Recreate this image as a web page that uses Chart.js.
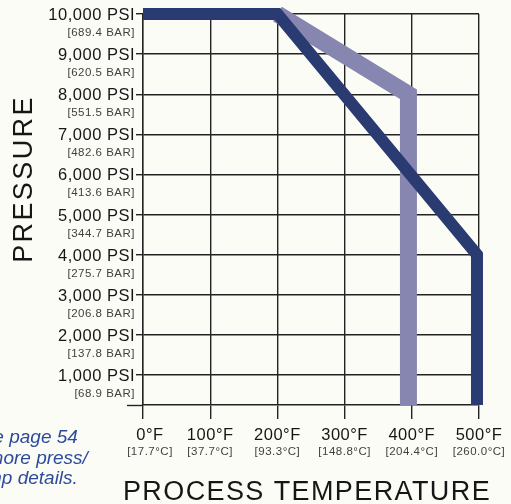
<!DOCTYPE html>
<html>
<head>
<meta charset="utf-8">
<script src="https://cdn.jsdelivr.net/npm/chart.js@4/dist/chart.umd.min.js"></script>
<style>
  html, body { margin: 0; padding: 0; background: #fcfcf7; }
  canvas { display: block; }
</style>
</head>
<body>
<canvas id="chart" width="511" height="504"></canvas>
<script>
// axis ticks
const tempTicks = [0, 100, 200, 300, 400, 500];
const tempLabels = ['0°F', '100°F', '200°F', '300°F', '400°F', '500°F'];
const tempSubLabels = ['[17.7°C]', '[37.7°C]', '[93.3°C]', '[148.8°C]', '[204.4°C]', '[260.0°C]'];
const psiTicks = [1000, 2000, 3000, 4000, 5000, 6000, 7000, 8000, 9000, 10000];
const psiLabels = ['1,000 PSI', '2,000 PSI', '3,000 PSI', '4,000 PSI', '5,000 PSI',
    '6,000 PSI', '7,000 PSI', '8,000 PSI', '9,000 PSI', '10,000 PSI'];
const barLabels = ['[68.9 BAR]', '[137.8 BAR]', '[206.8 BAR]', '[275.7 BAR]', '[344.7 BAR]',
    '[413.6 BAR]', '[482.6 BAR]', '[551.5 BAR]', '[620.5 BAR]', '[689.4 BAR]'];
const psiAxisMin = 250;
const psiAxisMax = 10000;

// rating curves (temperature °F, pressure PSI)
const darkTemps = [0, 200, 497, 497];
const darkPsi = [10000, 10000, 4000, 0];
const lightTemps = [200, 395, 395];
const lightPsi = [10000, 8000, 0];

const noteLines = ['See page 54', 'for more press/', 'temp details.'];

const GRID = '#232323';
const TEXT = '#161616';
const SUBTEXT = '#404040';

function toPoints(xs, ys) {
    return xs.map((x, i) => ({ x, y: ys[i] }));
}

const labelsPlugin = {
    id: 'labels',
    afterDraw(chart) {
        const ctx = chart.ctx;
        const area = chart.chartArea;
        const xs = chart.scales.x;
        const ys = chart.scales.y;
        ctx.save();

        // x axis runs a little past the y axis
        ctx.strokeStyle = GRID;
        ctx.lineWidth = 1.4;
        ctx.beginPath();
        ctx.moveTo(area.left - 16, Math.round(area.bottom) + 0.5);
        ctx.lineTo(area.left, Math.round(area.bottom) + 0.5);
        ctx.stroke();

        // y tick labels
        ctx.textAlign = 'right';
        ctx.textBaseline = 'alphabetic';
        psiTicks.forEach((v, i) => {
            const y = ys.getPixelForValue(v);
            ctx.fillStyle = TEXT;
            ctx.font = '16.5px "Liberation Sans", Arial, sans-serif';
            ctx.letterSpacing = '0.5px';
            ctx.fillText(psiLabels[i], area.left - 8, y + 6);
            ctx.fillStyle = SUBTEXT;
            ctx.font = '11.5px "Liberation Sans", Arial, sans-serif';
            ctx.letterSpacing = '0.5px';
            ctx.fillText(barLabels[i], area.left - 8, y + 22);
        });

        // x tick labels
        ctx.textAlign = 'center';
        tempTicks.forEach((v, i) => {
            const x = xs.getPixelForValue(v) + (i === 0 ? 7 : 0);
            ctx.fillStyle = TEXT;
            ctx.font = '16.5px "Liberation Sans", Arial, sans-serif';
            ctx.letterSpacing = '0.5px';
            ctx.fillText(tempLabels[i], x, area.bottom + 35);
            ctx.fillStyle = SUBTEXT;
            ctx.font = '11.5px "Liberation Sans", Arial, sans-serif';
            ctx.letterSpacing = '0.5px';
            ctx.fillText(tempSubLabels[i], x, area.bottom + 50);
        });

        // axis titles
        ctx.fillStyle = TEXT;
        ctx.font = '27px "Liberation Sans", Arial, sans-serif';
        ctx.letterSpacing = '1.4px';
        ctx.fillText('PROCESS TEMPERATURE', 307, 500);

        ctx.save();
        ctx.translate(32, 179);
        ctx.rotate(-Math.PI / 2);
        ctx.letterSpacing = '2.4px';
        ctx.fillText('PRESSURE', 0, 0);
        ctx.restore();

        // side note, cut off at the page edge
        ctx.fillStyle = '#2d4b9b';
        ctx.font = 'italic 19px "Liberation Sans Narrow", "Liberation Sans", Arial, sans-serif';
        ctx.letterSpacing = '0px';
        noteLines.forEach((t, i) => {
            ctx.fillText(t, 24, 443 + i * 20.5);
        });

        ctx.restore();
    }
};

new Chart(document.getElementById('chart'), {
    type: 'line',
    data: {
        datasets: [
            {
                data: toPoints(darkTemps, darkPsi),
                borderColor: '#2a3b72',
                borderWidth: 12,
                borderJoinStyle: 'miter',
                borderCapStyle: 'butt',
                pointRadius: 0,
                tension: 0,
                fill: false,
                clip: { left: 20, top: 20, right: 20, bottom: 0 }
            },
            {
                data: toPoints(lightTemps, lightPsi),
                borderColor: '#8786b0',
                borderWidth: 17,
                borderJoinStyle: 'miter',
                borderCapStyle: 'butt',
                pointRadius: 0,
                tension: 0,
                fill: false,
                clip: { left: 20, top: 20, right: 20, bottom: 0 }
            }
        ]
    },
    options: {
        responsive: false,
        animation: false,
        events: [],
        layout: { padding: { left: 136, right: 32, top: 14, bottom: 85 } },
        plugins: {
            legend: { display: false },
            tooltip: { enabled: false }
        },
        scales: {
            x: {
                type: 'linear',
                min: 0,
                max: 500,
                afterBuildTicks: s => { s.ticks = tempTicks.map(v => ({ value: v })); },
                ticks: { display: false },
                grid: { color: GRID, lineWidth: 1.4, tickLength: 14, drawTicks: true },
                border: { color: GRID, width: 1.4 }
            },
            y: {
                type: 'linear',
                min: psiAxisMin,
                max: psiAxisMax,
                afterBuildTicks: s => { s.ticks = psiTicks.map(v => ({ value: v })); },
                ticks: { display: false },
                grid: { color: GRID, lineWidth: 1.4, tickLength: 7, drawTicks: true },
                border: { color: GRID, width: 1.4 }
            }
        }
    },
    plugins: [labelsPlugin]
});
</script>
</body>
</html>
